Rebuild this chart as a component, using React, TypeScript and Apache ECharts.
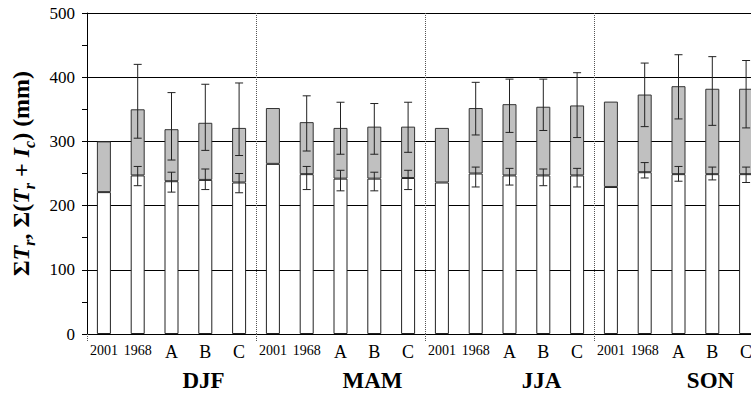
import React, { useEffect, useRef } from 'react';
import * as echarts from 'echarts';

const seasons = ['DJF', 'MAM', 'JJA', 'SON'];
const cases = ['2001', '1968', 'A', 'B', 'C'];

// Sum of Tr (white part), mm
const trValues = [
  221, 247, 238, 240, 236,
  265, 249, 242, 242, 243,
  236, 250, 247, 247, 247,
  229, 252, 249, 249, 249,
];
// Sum of Tr + Ic (bar top), mm
const totalValues = [
  300, 350, 319, 329, 321,
  352, 330, 321, 323, 323,
  321, 352, 358, 354, 356,
  362, 373, 386, 382, 382,
];
// error range of total
const totalLow = [
  null, 305, 271, 286, 278,
  null, 285, 280, 280, 283,
  null, 310, 314, 317, 306,
  null, 323, 335, 325, 321,
];
const totalHigh = [
  null, 420, 376, 389, 391,
  null, 371, 361, 359, 361,
  null, 392, 397, 397, 407,
  null, 422, 435, 432, 426,
];
// error range of Tr
const trLow = [
  null, 231, 221, 225, 220,
  null, 225, 223, 223, 225,
  null, 229, 232, 231, 229,
  null, 243, 238, 240, 236,
];
const trHigh = [
  null, 261, 252, 257, 250,
  null, 261, 255, 252, 255,
  null, 260, 258, 257, 258,
  null, 267, 261, 260, 260,
];

const SERIF = 'Liberation Serif';

export default function App() {
  const ref = useRef<HTMLDivElement>(null);
  useEffect(() => {
    const chart = echarts.init(ref.current!, null, { renderer: 'svg' });
    const categories = seasons.flatMap(() => cases);
    const icValues = totalValues.map((t, i) => t - trValues[i]);
    const errData = (low: (number | null)[], high: (number | null)[]) =>
      low
        .map((l, i) => (l == null ? null : [i, l, high[i] as number]))
        .filter((d) => d !== null);
    const renderErr = (_params: any, api: any) => {
      const lo = api.coord([api.value(0), api.value(1)]);
      const hi = api.coord([api.value(0), api.value(2)]);
      const half = 4;
      const style = { stroke: '#222', lineWidth: 1 };
      return {
        type: 'group',
        children: [
          { type: 'line', shape: { x1: lo[0], y1: lo[1], x2: hi[0], y2: hi[1] }, style },
          { type: 'line', shape: { x1: lo[0] - half, y1: lo[1], x2: lo[0] + half, y2: lo[1] }, style },
          { type: 'line', shape: { x1: hi[0] - half, y1: hi[1], x2: hi[0] + half, y2: hi[1] }, style },
        ],
      };
    };
    chart.setOption({
      animation: false,
      backgroundColor: '#fff',
      textStyle: { fontFamily: SERIF },
      grid: { left: 87, right: 37, top: 13, bottom: 63, containLabel: false },
      xAxis: [
        {
          type: 'category',
          data: categories,
          axisLine: { lineStyle: { color: '#000', width: 1 } },
          axisTick: { show: false },
          axisLabel: {
            interval: 0,
            margin: 9,
            color: '#000',
            fontFamily: SERIF,
            formatter: (v: string) => (/^\d/.test(v) ? `{y|${v}}` : `{l|${v}}`),
            rich: {
              y: { fontSize: 14, fontFamily: SERIF, color: '#000' },
              l: { fontSize: 18, fontFamily: SERIF, color: '#000' },
            },
          },
          splitLine: { show: false },
        },
        {
          type: 'category',
          data: seasons,
          position: 'bottom',
          axisLine: { show: false },
          axisTick: { show: true, length: 7, lineStyle: { color: '#555', type: 'dotted' } },
          splitLine: { show: true, lineStyle: { color: '#555', type: 'dotted', width: 1 } },
          axisLabel: {
            interval: 0,
            margin: 35,
            color: '#000',
            fontFamily: SERIF,
            fontWeight: 'bold',
            fontSize: 23,
            padding: [0, 0, 0, 64],
          },
        },
      ],
      yAxis: {
        type: 'value',
        min: 0,
        max: 500,
        interval: 100,
        axisLine: { show: true, lineStyle: { color: '#000', width: 1 } },
        axisTick: { show: true, length: 5, lineStyle: { color: '#000' } },
        minorTick: { show: true, splitNumber: 2, length: 5, lineStyle: { color: '#000' } },
        splitLine: { show: true, lineStyle: { color: '#000', width: 1 } },
        axisLabel: { color: '#000', fontSize: 17, fontFamily: SERIF, margin: 12 },
        name:
          '{n|Σ}{i|T}{s|r}{n|, Σ(}{i|T}{s|r}{n| + }{i|I}{s|c}{n|) (mm)}',
        nameLocation: 'middle',
        nameRotate: 90,
        nameGap: 50,
        nameTextStyle: {
          fontFamily: SERIF,
          rich: {
            n: { fontSize: 24, fontWeight: 'bold', fontFamily: SERIF, color: '#000', lineHeight: 32, verticalAlign: 'middle' },
            i: { fontSize: 24, fontWeight: 'bold', fontStyle: 'italic', fontFamily: SERIF, color: '#000', lineHeight: 32, verticalAlign: 'middle' },
            s: { fontSize: 16, fontWeight: 'bold', fontStyle: 'italic', fontFamily: SERIF, color: '#000', lineHeight: 10, verticalAlign: 'bottom' },
          },
        },
      },
      series: [
        {
          type: 'bar',
          stack: 'sum',
          barWidth: 14,
          data: trValues,
          itemStyle: { color: '#fff', borderColor: '#222', borderWidth: 1 },
        },
        {
          type: 'bar',
          stack: 'sum',
          barWidth: 14,
          data: icValues,
          itemStyle: { color: '#c0c0c0', borderColor: '#333', borderWidth: 1 },
        },
        {
          type: 'custom',
          renderItem: renderErr,
          data: errData(totalLow, totalHigh),
          z: 5,
        },
        {
          type: 'custom',
          renderItem: renderErr,
          data: errData(trLow, trHigh),
          z: 5,
        },
      ],
    });
    return () => chart.dispose();
  }, []);
  return (
    <div style={{ position: 'absolute', left: 0, top: 0, width: 751, height: 397, overflow: 'hidden', background: '#fff' }}>
      <div ref={ref} style={{ width: 800, height: 397 }} />
    </div>
  );
}
